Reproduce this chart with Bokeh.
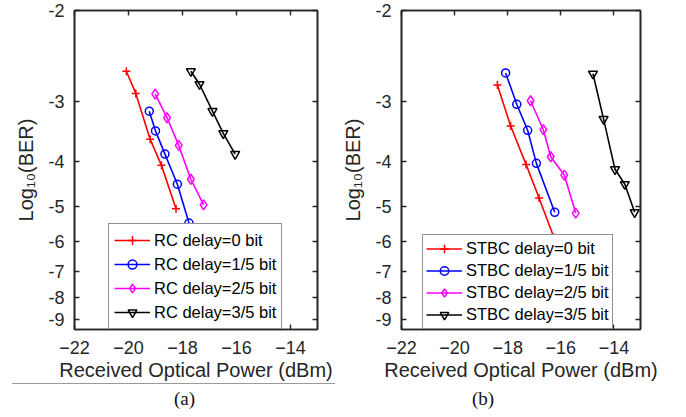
import numpy as np
from bokeh.plotting import figure
from bokeh.models import (FixedTicker, CustomJSTickFormatter, LinearAxis, Legend,
                          LegendItem, Range1d, Div)
from bokeh.layouts import row, column
from bokeh.embed import file_html
from bokeh.resources import INLINE

# ---- data: x = received optical power (dBm), y = log10(BER) ----
a_x0 = [-20.08, -19.73, -19.20, -18.78, -18.24]
a_y0 = [-2.61, -2.89, -3.59, -4.08, -5.07]
a_x1 = [-19.23, -19.00, -18.65, -18.19, -17.76]
a_y1 = [-3.14, -3.45, -3.86, -4.48, -5.45]
a_x2 = [-19.01, -18.57, -18.14, -17.69, -17.22]
a_y2 = [-2.90, -3.24, -3.70, -4.37, -4.97]
a_x3 = [-17.69, -17.37, -16.89, -16.49, -16.05]
a_y3 = [-2.61, -2.77, -3.14, -3.49, -3.86]

b_x0 = [-18.39, -17.89, -17.31, -16.82, -16.26]
b_y0 = [-2.78, -3.37, -4.06, -4.80, -5.87]
b_x1 = [-18.08, -17.66, -17.25, -16.92, -16.23]
b_y1 = [-2.63, -3.04, -3.44, -4.04, -5.16]
b_x2 = [-17.14, -16.66, -16.38, -15.87, -15.44]
b_y2 = [-2.99, -3.43, -3.91, -4.28, -5.18]
b_x3 = [-14.79, -14.39, -13.96, -13.59, -13.22]
b_y3 = [-2.64, -3.26, -4.16, -4.48, -5.16]

a_labels = ["RC delay=0 bit", "RC delay=1/5 bit", "RC delay=2/5 bit", "RC delay=3/5 bit"]
b_labels = ["STBC delay=0 bit", "STBC delay=1/5 bit", "STBC delay=2/5 bit", "STBC delay=3/5 bit"]

x_ticks = [-22, -20, -18, -16, -14]
y_ticks = [-2, -3, -4, -5, -6, -7, -8, -9]

colors = ["#FF0000", "#0000FF", "#FF00FF", "#000000"]
markers = ["cross", "circle", "diamond", "inverted_triangle"]
msizes = [8, 8, 10, 9]

AX = "#262626"
SANS = "Liberation Sans"


def ty(v):
    # BER-style axis scale used by the original plot
    return -np.log10(-np.asarray(v, dtype=float) - 0.5)


def box_axis(ticks):
    return LinearAxis(ticker=FixedTicker(ticks=ticks), major_tick_in=5, major_tick_out=0,
                      minor_tick_line_color=None, major_label_text_font_size="1px",
                      major_label_text_color=None, major_label_standoff=0,
                      axis_line_color=AX, axis_line_width=1.6,
                      major_tick_line_color=AX, major_tick_line_width=1.4)


def make_panel(xs, ys, labels, width, mbl, mbr, leg_x, leg_pad, leg_h, leg_sp):
    p = figure(width=width, height=383, output_backend="svg", toolbar_location=None,
               x_range=Range1d(-22, -13), y_range=Range1d(ty(-9.5), ty(-2)),
               min_border_left=mbl, min_border_right=mbr, min_border_top=10,
               min_border_bottom=0)
    p.grid.visible = False
    p.outline_line_color = AX
    p.outline_line_width = 1.6
    p.background_fill_color = "white"

    yt = [float(ty(v)) for v in y_ticks]
    fmt = CustomJSTickFormatter(code="return (-(Math.pow(10, -tick) + 0.5)).toFixed(0);")
    for ax in p.xaxis:
        ax.ticker = FixedTicker(ticks=x_ticks)
    for ax in p.yaxis:
        ax.ticker = FixedTicker(ticks=yt)
        ax.formatter = fmt
    for ax in list(p.xaxis) + list(p.yaxis):
        ax.major_tick_in = 5
        ax.major_tick_out = 0
        ax.minor_tick_line_color = None
        ax.axis_line_color = AX
        ax.axis_line_width = 1.6
        ax.major_tick_line_color = AX
        ax.major_tick_line_width = 1.4
        ax.major_label_text_font = SANS
        ax.major_label_text_font_size = "18px"
        ax.major_label_text_color = AX
        ax.axis_label_text_font = SANS
        ax.axis_label_text_font_size = "20px"
        ax.axis_label_text_font_style = "normal"
        ax.axis_label_text_color = AX
    p.xaxis.axis_label = "Received Optical Power (dBm)"
    p.xaxis.major_label_standoff = 11
    p.xaxis.axis_label_standoff = 2
    p.yaxis.axis_label = "Log₁₀(BER)"
    p.yaxis.major_label_standoff = 10
    p.yaxis.axis_label_standoff = 8

    p.add_layout(box_axis(x_ticks), "above")
    p.add_layout(box_axis(yt), "right")

    items = []
    for i in range(4):
        yy = ty(ys[i])
        ln = p.line(xs[i], yy, line_color=colors[i], line_width=1.6)
        sc = p.scatter(xs[i], yy, marker=markers[i], size=msizes[i],
                       line_color=colors[i], fill_color=None, line_width=1.5)
        items.append(LegendItem(label=labels[i], renderers=[ln, sc]))

    leg = Legend(items=items, location=(leg_x, 0), glyph_width=36, glyph_height=leg_h,
                 label_height=leg_h, spacing=leg_sp, padding=leg_pad, margin=0,
                 label_standoff=4, label_text_font=SANS, label_text_font_size="16.5px",
                 label_text_color="#000000", border_line_color=AX,
                 border_line_width=1.6, background_fill_color="white",
                 background_fill_alpha=1.0)
    p.add_layout(leg, "center")
    return p


pa = make_panel([a_x0, a_x1, a_x2, a_x3], [a_y0, a_y1, a_y2, a_y3], a_labels,
                339, 74, 22, 34, 5, 22, 2)
pb = make_panel([b_x0, b_x1, b_x2, b_x3], [b_y0, b_y1, b_y2, b_y3], b_labels,
                347, 59, 46, 21, 3, 21, 1)

cap_a = Div(text='<div style="border-top:1px solid #9a9a9a;width:323px;margin-left:12px;'
                 'padding-left:162px;padding-top:4px;box-sizing:border-box;'
                 'font-family:\'Liberation Serif\';font-size:19px;line-height:22px;'
                 'color:#111;">(a)</div>',
            width=339, height=34, margin=0)
cap_b = Div(text='<div style="width:340px;padding-left:133px;padding-top:4px;'
                 'box-sizing:border-box;border-top:1px solid transparent;'
                 'font-family:\'Liberation Serif\';font-size:19px;line-height:22px;'
                 'color:#111;">(b)</div>',
            width=347, height=34, margin=0)

layout = row(column(pa, cap_a, spacing=0), column(pb, cap_b, spacing=0), spacing=0)

open("out.html", "w").write(file_html(layout, INLINE))
